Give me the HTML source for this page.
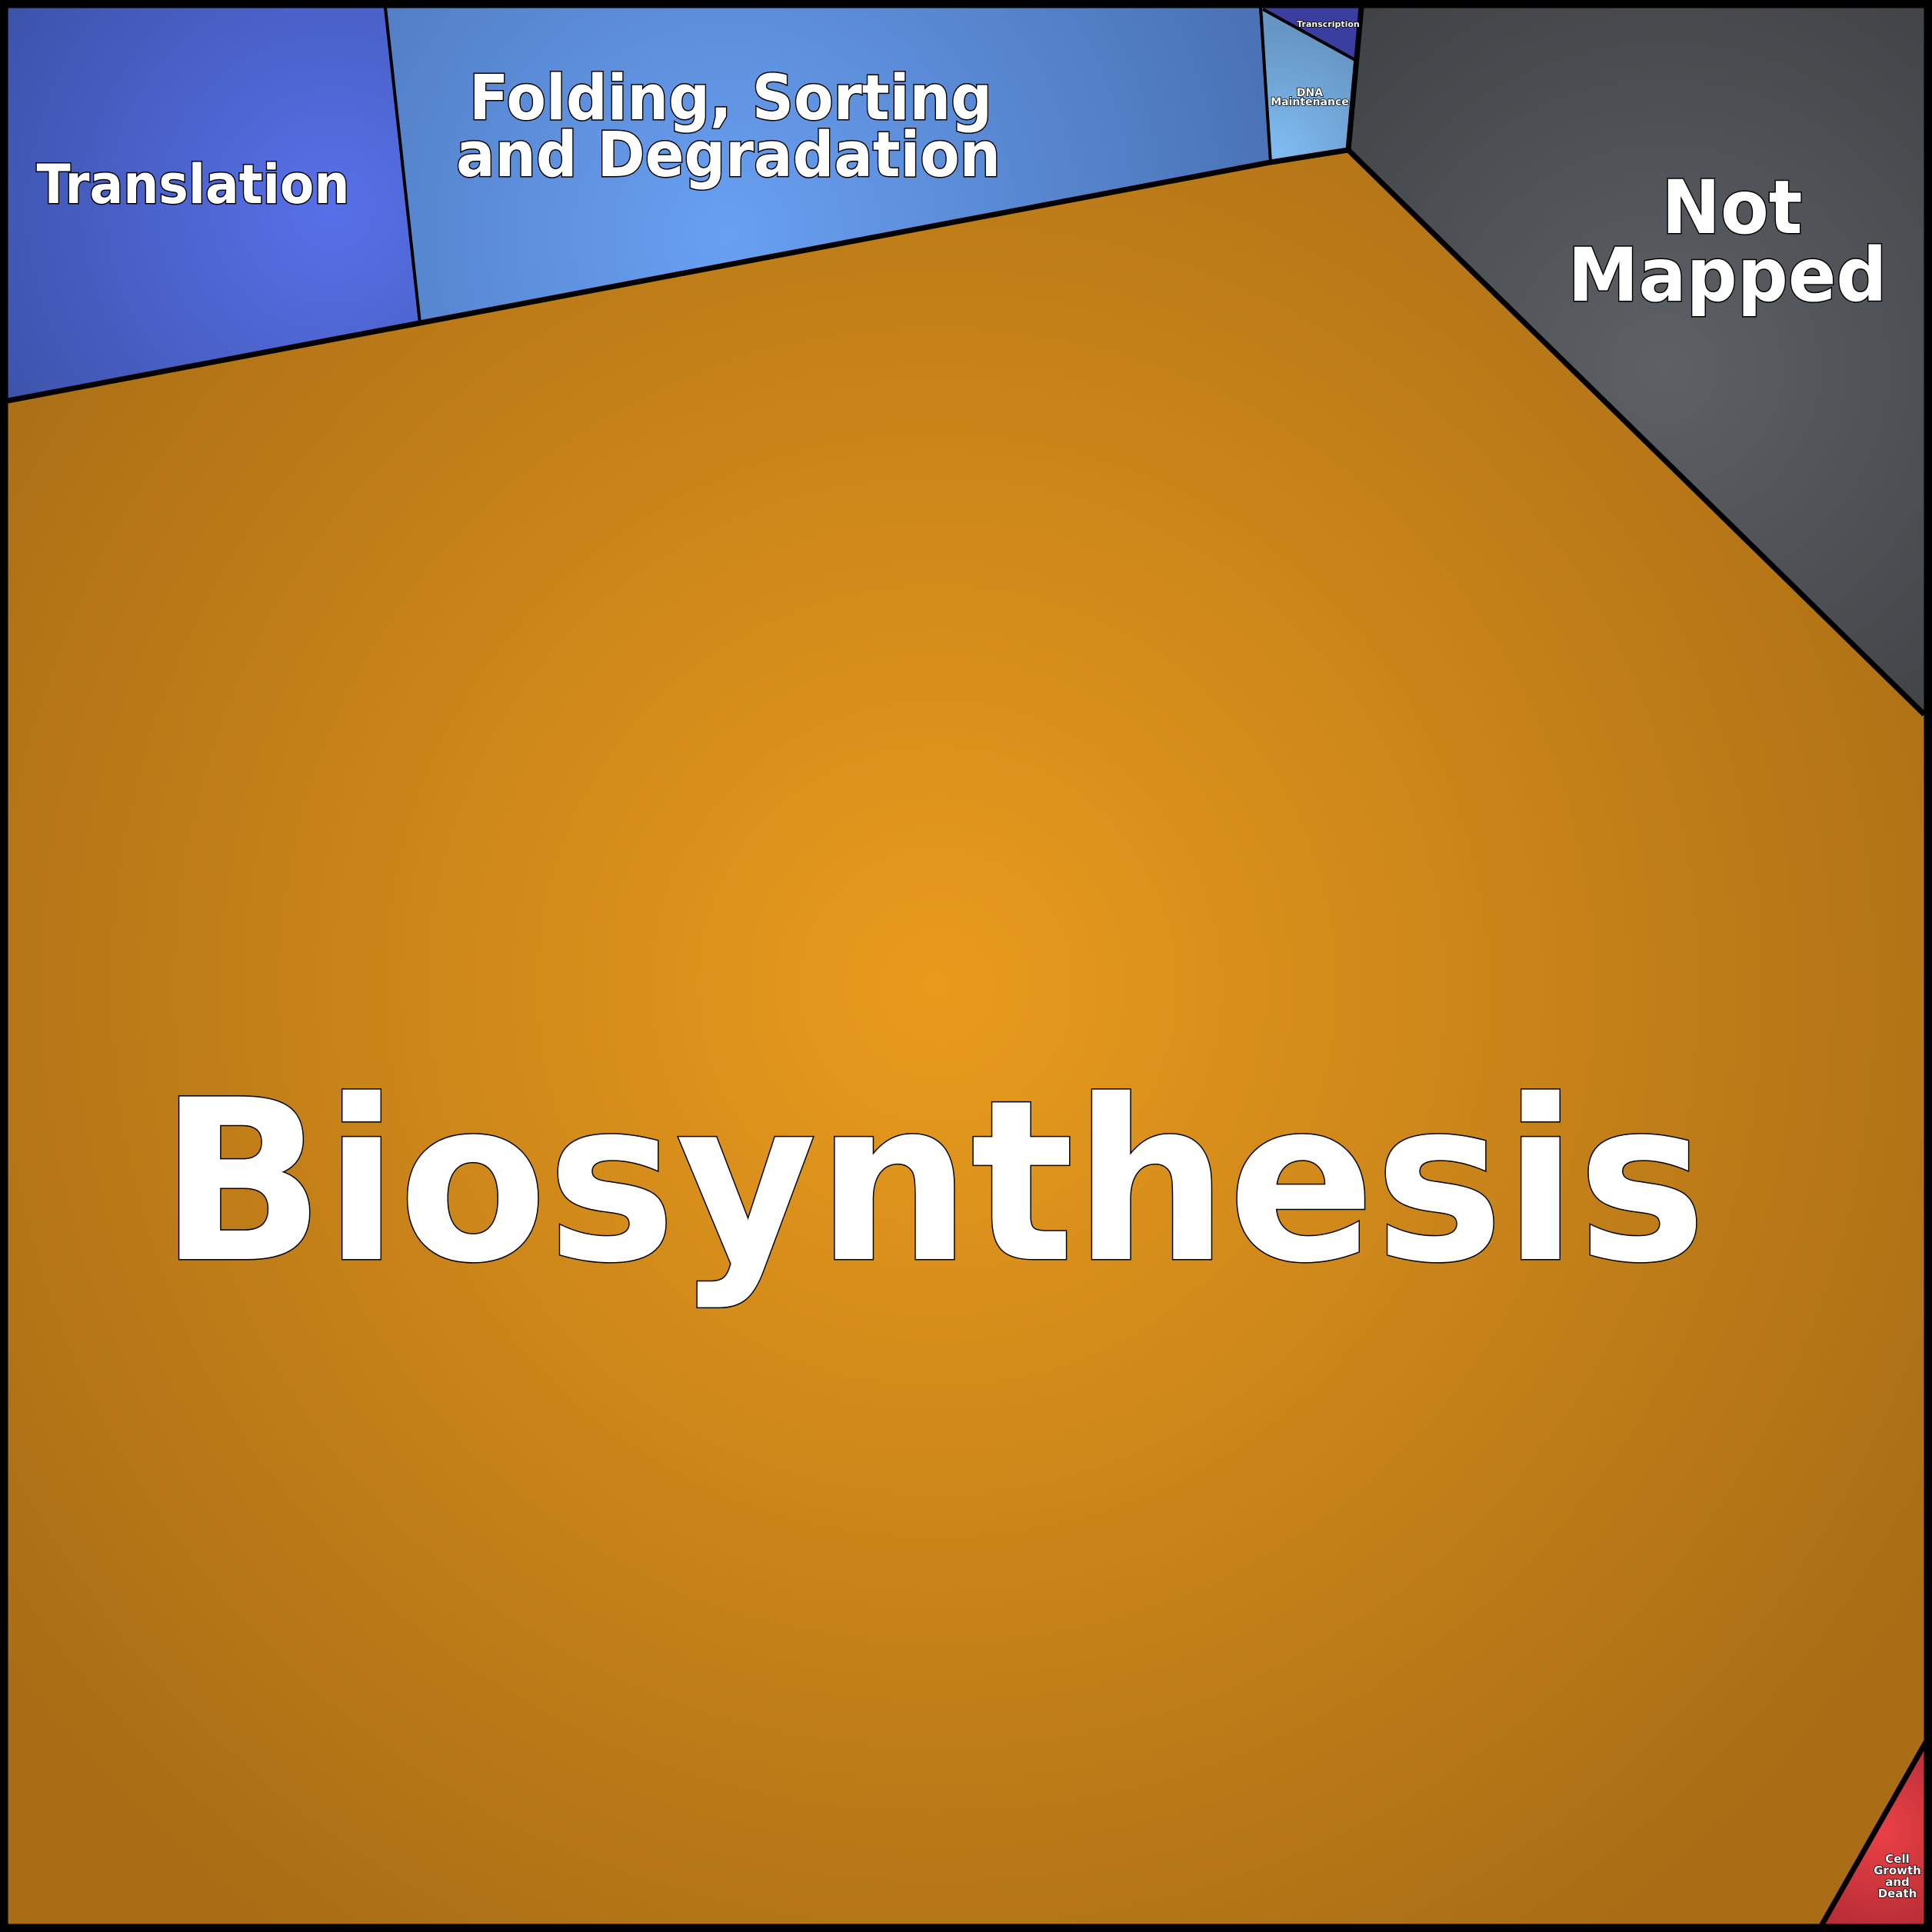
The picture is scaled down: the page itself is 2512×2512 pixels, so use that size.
<!DOCTYPE html>
<html><head><meta charset="utf-8"><style>
html,body{margin:0;padding:0;background:#000}
svg{display:block}
text{font-family:"DejaVu Sans","Liberation Sans",sans-serif;font-weight:bold;fill:#fff;stroke:#000;paint-order:stroke;text-anchor:middle}
</style></head><body>
<svg width="2512" height="2512" viewBox="0 0 2512 2512" xmlns="http://www.w3.org/2000/svg">
<defs>
<radialGradient id="gB" cx="1218" cy="1282" r="1500" gradientUnits="userSpaceOnUse"><stop offset="0" stop-color="#e99b1d"/><stop offset="1" stop-color="#a96d15"/></radialGradient>
<radialGradient id="gT" cx="432" cy="272" r="480" gradientUnits="userSpaceOnUse"><stop offset="0" stop-color="#5870e8"/><stop offset="1" stop-color="#3d54ad"/></radialGradient>
<radialGradient id="gF" cx="945" cy="305" r="720" gradientUnits="userSpaceOnUse"><stop offset="0" stop-color="#69a0f2"/><stop offset="1" stop-color="#4a73b6"/></radialGradient>
<radialGradient id="gD" cx="1660" cy="200" r="160" gradientUnits="userSpaceOnUse"><stop offset="0" stop-color="#80bcf2"/><stop offset="1" stop-color="#6696c4"/></radialGradient>
<radialGradient id="gN" cx="2163" cy="480" r="700" gradientUnits="userSpaceOnUse"><stop offset="0" stop-color="#5d6165"/><stop offset="1" stop-color="#3b3e41"/></radialGradient>
<radialGradient id="gC" cx="2445" cy="2380" r="160" gradientUnits="userSpaceOnUse"><stop offset="0" stop-color="#ea4146"/><stop offset="1" stop-color="#ad2933"/></radialGradient>
</defs>
<rect x="0" y="0" width="2512" height="2512" fill="#000"/>
<rect x="10" y="10" width="2492" height="2492" fill="url(#gB)"/>
<polygon points="10,10 501,10 546,420 10,521" fill="url(#gT)"/>
<polygon points="501,10 1642,10 1652,211 546,420" fill="url(#gF)"/>
<polygon points="1642,10 1768,10 1760,78" fill="#3a3e9e"/>
<polygon points="1642,12 1760,78 1753,195 1652,211" fill="url(#gD)"/>
<polygon points="1768,10 2502,10 2502,929 1753,195" fill="url(#gN)"/>
<polygon points="2502,2267 2502,2502 2370,2502" fill="url(#gC)"/>
<g stroke="#000" fill="none" stroke-linejoin="round">
<polyline points="10,521 546,420 1652,211 1753,195 2502,929" stroke-width="7"/>
<line x1="501" y1="10" x2="546" y2="420" stroke-width="4"/>
<line x1="1639" y1="10" x2="1652" y2="211" stroke-width="4"/>
<line x1="1642" y1="12" x2="1762" y2="78" stroke-width="4"/>
<line x1="1770" y1="10" x2="1753" y2="195" stroke-width="7"/>
<line x1="2504" y1="2265" x2="2368" y2="2504" stroke-width="7"/>
</g>
<rect x="5" y="5" width="2502" height="2502" fill="none" stroke="#000" stroke-width="11"/>
<text x="1213" y="1637" font-size="290" stroke-width="3" textLength="2011" lengthAdjust="spacingAndGlyphs">Biosynthesis</text>
<text x="251" y="264" font-size="70" stroke-width="3" textLength="407" lengthAdjust="spacingAndGlyphs">Translation</text>
<text x="950" y="155" font-size="81" stroke-width="3" textLength="680" lengthAdjust="spacingAndGlyphs">Folding, Sorting</text>
<text x="947" y="229" font-size="81" stroke-width="3" textLength="708" lengthAdjust="spacingAndGlyphs">and Degradation</text>
<text x="2252" y="303" font-size="96" stroke-width="3" textLength="183" lengthAdjust="spacingAndGlyphs">Not</text>
<text x="2246" y="391" font-size="96" stroke-width="3" textLength="415" lengthAdjust="spacingAndGlyphs">Mapped</text>
<text x="1703" y="125" font-size="14" stroke-width="1.5">DNA</text>
<text x="1703" y="137" font-size="14" stroke-width="1.5">Maintenance</text>
<text x="1727" y="35" font-size="11" stroke-width="1.5">Transcription</text>
<text x="2467" y="2422" font-size="15" stroke-width="1.5">Cell</text>
<text x="2467" y="2437" font-size="15" stroke-width="1.5">Growth</text>
<text x="2467" y="2452" font-size="15" stroke-width="1.5">and</text>
<text x="2467" y="2467" font-size="15" stroke-width="1.5">Death</text>
</svg>
</body></html>
